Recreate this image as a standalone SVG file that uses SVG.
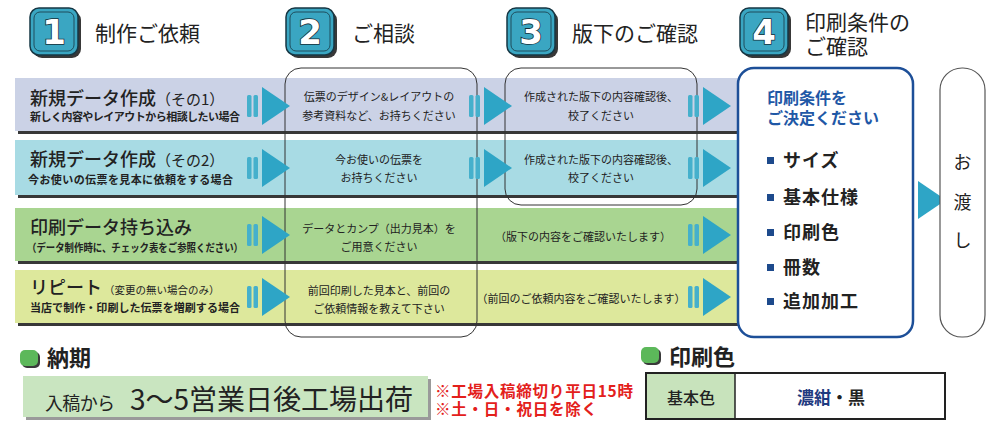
<svg xmlns="http://www.w3.org/2000/svg" xmlns:xlink="http://www.w3.org/1999/xlink" width="1000" height="438" viewBox="0 0 1000 438">
<style>
.jp{font-family:"Noto Sans CJK JP","Noto Sans",sans-serif;fill:#222}
.hd{font-size:21px}
.ttl{font-size:18px;font-weight:500}
.sm{font-size:15px}
.sub{font-size:11px;font-weight:700}
.cell{font-size:11px;text-anchor:middle}
.bl{font-size:16px;font-weight:700;fill:#1f58a6}
.it{font-size:18px;font-weight:700;letter-spacing:1px}
.sq{fill:#1d4a8c}
.bar{fill:#45b0cc}
.tri{fill:#2ea5c6}
.frame{fill:none;stroke:#333;stroke-width:1}
.shd{fill:#383838}
.bdg{fill:#3aa6c2;stroke:#163744;stroke-width:1.5}
.bdgin{fill:none;stroke:#1f4d5c;stroke-width:1}
.num{font-family:"DejaVu Sans",sans-serif;font-weight:700;font-size:34px;fill:#fff;stroke:#16303a;stroke-width:1.6;paint-order:stroke;text-anchor:middle}
.red{font-family:"Noto Sans CJK JP",sans-serif;font-size:15.5px;font-weight:700;fill:#e3201b}
</style>
<defs>
<g id="arw">
<rect x="0" y="-11" width="4.5" height="22" rx="1.5" class="bar"/>
<rect x="6.5" y="-11" width="4.5" height="22" rx="1.5" class="bar"/>
<polygon points="15,-19 15,19 43,0" class="tri"/>
</g>
<g id="badge">
<rect x="3" y="3" width="48" height="47" rx="9" class="shd"/>
<rect x="0" y="0" width="48" height="47" rx="9" class="bdg"/>
<rect x="4" y="4" width="40" height="39" rx="6" class="bdgin"/>
</g>
</defs>
<rect width="1000" height="438" fill="#ffffff"/>

<!-- step headers -->
<g id="step1">
<use xlink:href="#badge" x="30" y="8"/>
<text class="num" x="54" y="44">1</text>
<text class="jp hd" x="95" y="41">制作ご依頼</text>
</g>
<g id="step2">
<use xlink:href="#badge" x="286" y="8"/>
<text class="num" x="310" y="44">2</text>
<text class="jp hd" x="352" y="41">ご相談</text>
</g>
<g id="step3">
<use xlink:href="#badge" x="507" y="8"/>
<text class="num" x="531" y="44">3</text>
<text class="jp hd" x="572" y="41">版下のご確認</text>
</g>
<g id="step4">
<use xlink:href="#badge" x="740" y="8"/>
<text class="num" x="764" y="44">4</text>
<text class="jp hd" x="805" y="30">印刷条件の</text>
<text class="jp hd" x="805" y="54">ご確認</text>
</g>

<!-- row bands -->
<g id="row1">
<rect x="18" y="81" width="730" height="53" class="shd"/>
<rect x="15" y="78" width="730" height="53" fill="#cbd2e6"/>
<text class="jp ttl" x="30" y="105">新規データ作成<tspan class="sm" font-weight="400">（その1）</tspan></text>
<text class="jp sub" x="30" y="121" font-size="10.5" textLength="210">新しく内容やレイアウトから相談したい場合</text>
</g>
<g id="row2">
<rect x="18" y="143" width="730" height="55" class="shd"/>
<rect x="15" y="140" width="730" height="55" fill="#a8dbe4"/>
<text class="jp ttl" x="30" y="166">新規データ作成<tspan class="sm" font-weight="400">（その2）</tspan></text>
<text class="jp sub" x="28" y="184" textLength="205">今お使いの伝票を見本に依頼をする場合</text>
</g>
<g id="row3">
<rect x="18" y="211" width="730" height="53" class="shd"/>
<rect x="15" y="208" width="730" height="53" fill="#a9d591"/>
<text class="jp ttl" x="30" y="234">印刷データ持ち込み</text>
<text class="jp sub" x="27" y="252" font-size="10" textLength="216" lengthAdjust="spacingAndGlyphs">（データ制作時に、チェック表をご参照ください）</text>
</g>
<g id="row4">
<rect x="18" y="273" width="730" height="53" class="shd"/>
<rect x="15" y="270" width="730" height="53" fill="#dde89c"/>
<text class="jp ttl" x="30" y="294">リピート<tspan font-size="10.5" font-weight="400" dx="2">（変更の無い場合のみ）</tspan></text>
<text class="jp sub" x="30" y="312" textLength="210">当店で制作・印刷した伝票を増刷する場合</text>
</g>

<!-- consultation / proof frames -->
<g id="consult">
<rect x="285" y="68" width="192" height="269" rx="16" class="frame"/>
<text class="jp cell" x="379" y="101">伝票のデザイン&amp;レイアウトの</text>
<text class="jp cell" x="379" y="120">参考資料など、お持ちください</text>
<text class="jp cell" x="379" y="164">今お使いの伝票を</text>
<text class="jp cell" x="379" y="182">お持ちください</text>
<text class="jp cell" x="379" y="233">データとカンプ（出力見本）を</text>
<text class="jp cell" x="379" y="251">ご用意ください</text>
<text class="jp cell" x="379" y="295">前回印刷した見本と、前回の</text>
<text class="jp cell" x="379" y="313">ご依頼情報を教えて下さい</text>
</g>
<g id="proof">
<rect x="505" y="68" width="192" height="137" rx="16" class="frame"/>
<text class="jp cell" x="601" y="101">作成された版下の内容確認後、</text>
<text class="jp cell" x="601" y="120">校了ください</text>
<text class="jp cell" x="601" y="164">作成された版下の内容確認後、</text>
<text class="jp cell" x="601" y="182">校了ください</text>
<text class="jp cell" x="583" y="241">（版下の内容をご確認いたします）</text>
<text class="jp cell" x="581" y="303">（前回のご依頼内容をご確認いたします）</text>
</g>

<!-- connectors -->
<g id="connectors">
<use xlink:href="#arw" x="247" y="106"/>
<use xlink:href="#arw" x="247" y="168"/>
<use xlink:href="#arw" x="247" y="235"/>
<use xlink:href="#arw" x="247" y="297"/>
<use xlink:href="#arw" x="469" y="106"/>
<use xlink:href="#arw" x="469" y="168"/>
<use xlink:href="#arw" x="688" y="106"/>
<use xlink:href="#arw" x="688" y="168"/>
<use xlink:href="#arw" x="688" y="235"/>
<use xlink:href="#arw" x="688" y="297"/>
<use xlink:href="#arw" x="903" y="200"/>
</g>

<!-- print conditions -->
<g id="conditions">
<rect x="738" y="68" width="175" height="269" rx="16" fill="#fff" stroke="#1d4f98" stroke-width="2.5"/>
<text class="jp bl" x="767" y="104">印刷条件を</text>
<text class="jp bl" x="767" y="124">ご決定ください</text>
<rect x="767" y="157" width="7" height="7" class="sq"/>
<text class="jp it" x="783" y="167">サイズ</text>
<rect x="767" y="194" width="7" height="7" class="sq"/>
<text class="jp it" x="783" y="204">基本仕様</text>
<rect x="767" y="229" width="7" height="7" class="sq"/>
<text class="jp it" x="783" y="239">印刷色</text>
<rect x="767" y="264" width="7" height="7" class="sq"/>
<text class="jp it" x="783" y="274">冊数</text>
<rect x="767" y="298" width="7" height="7" class="sq"/>
<text class="jp it" x="783" y="308">追加加工</text>
</g>

<g id="delivery">
<rect x="940" y="68" width="45" height="269" rx="22" fill="#fff" stroke="#555" stroke-width="1.2"/>
<text class="jp" x="962.5" y="169" font-size="18" text-anchor="middle">お</text>
<text class="jp" x="962.5" y="209" font-size="18" text-anchor="middle">渡</text>
<text class="jp" x="962.5" y="247" font-size="18" text-anchor="middle">し</text>
</g>

<!-- lead time -->
<g id="leadtime">
<rect x="22" y="352" width="18" height="16" rx="5" fill="#3a3a3a"/>
<rect x="20" y="350" width="18" height="16" rx="5" fill="#5cb85a"/>
<text class="jp" x="47" y="366" font-size="22" font-weight="700">納期</text>
<rect x="26" y="379" width="405" height="41" fill="#9a9a9a"/>
<rect x="23" y="376" width="405" height="41" fill="#c9e5c0"/>
<text class="jp" x="45" y="410" font-size="18" textLength="70">入稿から</text>
<text class="jp" x="130" y="410" font-size="28" textLength="283">3〜5営業日後工場出荷</text>
<text class="red" x="435" y="397" textLength="198">※工場入稿締切り平日15時</text>
<text class="red" x="435" y="415" textLength="162">※土・日・祝日を除く</text>
</g>

<!-- print color -->
<g id="printcolor">
<rect x="643" y="349" width="18" height="16" rx="5" fill="#3a3a3a"/>
<rect x="641" y="347" width="18" height="16" rx="5" fill="#5cb85a"/>
<text class="jp" x="669" y="365" font-size="22" font-weight="700">印刷色</text>
<rect x="646" y="373" width="299" height="46" fill="#fff" stroke="#222" stroke-width="2"/>
<rect x="647" y="374" width="88" height="44" fill="#c8e3bc"/>
<line x1="735" y1="373" x2="735" y2="419" stroke="#222" stroke-width="1.5"/>
<text class="jp" x="691" y="404" font-size="16" font-weight="500" text-anchor="middle">基本色</text>
<text class="jp" x="831" y="404" font-size="17" font-weight="700" text-anchor="middle"><tspan fill="#1f3a80">濃紺</tspan>・黒</text>
</g>
</svg>
